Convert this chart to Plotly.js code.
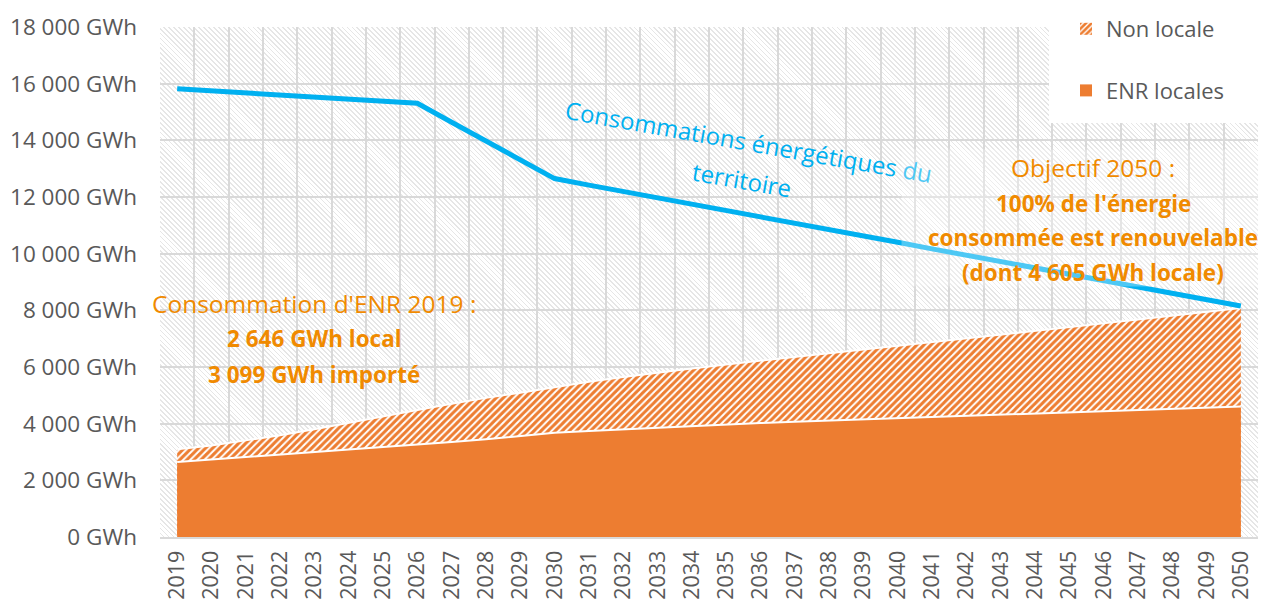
<!DOCTYPE html>
<html><head><meta charset="utf-8">
<script src="https://cdn.plot.ly/plotly-3.0.1.min.js"></script>
<style>
html,body{margin:0;padding:0;background:#fff;}
#wrap{position:relative;width:1261px;height:605px;overflow:hidden;}
#hatch{position:absolute;left:160px;top:27px;width:1098px;height:510px;
background:repeating-linear-gradient(45deg,#ffffff 0px,#ffffff 2.2px,#e6e6e6 2.2px,#e6e6e6 3.5px);}
#chart{position:absolute;left:0;top:0;width:1261px;height:605px;}
</style></head><body>
<div id="wrap"><div id="hatch"></div><div id="chart"></div></div>
<script>
// ---- data ----
const years = ['2019','2020','2021','2022','2023','2024','2025','2026','2027','2028','2029','2030',
  '2031','2032','2033','2034','2035','2036','2037','2038','2039','2040',
  '2041','2042','2043','2044','2045','2046','2047','2048','2049','2050'];

const consommation = [15820,15750,15680,15600,15530,15460,15380,15310,14640,13980,13310,12650,
  12420,12200,11970,11750,11520,11300,11070,10850,10620,10400,
  10170,9950,9720,9500,9270,9050,8820,8600,8370,8150];

const enrLocales = [2646,2730,2820,2910,3000,3090,3180,3260,3350,3450,3560,3680,
  3740,3800,3860,3920,3970,4020,4070,4110,4150,4190,
  4230,4270,4310,4350,4390,4430,4470,4510,4560,4605];

const nonLocale = [3099,3230,3410,3590,3800,4030,4270,4480,4700,4910,5090,5290,
  5480,5650,5810,5950,6090,6220,6350,6490,6620,6750,
  6880,7010,7150,7280,7410,7540,7680,7810,7940,8080];

const yTickVals = [0,2000,4000,6000,8000,10000,12000,14000,16000,18000];
const yTickText = ['0 GWh','2 000 GWh','4 000 GWh','6 000 GWh','8 000 GWh','10 000 GWh',
  '12 000 GWh','14 000 GWh','16 000 GWh','18 000 GWh'];

const seriesNames = ['Non locale','ENR locales'];
const lineLabel = ['Consommations énergétiques du','territoire'];
const enr2019Text = ["Consommation d'ENR 2019 :","2 646 GWh local","3 099 GWh importé"];
const objectifText = ["Objectif 2050 :","100% de l'énergie","consommée est renouvelable","(dont 4 605 GWh locale)"];

// ---- styles ----
const ORANGE = '#ED7D31';
const TXT_ORANGE = '#F08A00';
const BLUE = '#00B0F0';
const GREY = '#595959';
const GRID = '#d9d9d9';
const FONT = 'Open Sans, Noto Sans, sans-serif';

// plot area geometry (pixels) for placing text
const L = 160, T = 27, W = 1098, H = 510;
const px = v => (v - L) / W;
const py = v => (T + H - v) / H;

const traces = [
  {x: years, y: nonLocale, type:'scatter', mode:'lines', fill:'tozeroy',
   line:{color:'#ffffff', width:2}, fillcolor:ORANGE,
   fillpattern:{shape:'/', fgcolor:ORANGE, bgcolor:'#ffffff', size:5, solidity:0.6},
   showlegend:false, hoverinfo:'skip'},
  {x: years, y: enrLocales, type:'scatter', mode:'lines', fill:'tozeroy',
   line:{color:'#ffffff', width:2}, fillcolor:ORANGE, showlegend:false, hoverinfo:'skip'},
  {x: years, y: consommation, type:'scatter', mode:'lines',
   line:{color:BLUE, width:5}, showlegend:false, hoverinfo:'skip'},
  // legend entries (no visible bars)
  {x: [years[0]], y: [null], type:'bar', name: seriesNames[0], legendgroup:'a',
   marker:{color:'#ffffff', line:{width:0}, pattern:{shape:'/', fgcolor:ORANGE, bgcolor:'#ffffff', size:5, solidity:0.65}}},
  {x: [years[0]], y: [null], type:'bar', name: seriesNames[1], legendgroup:'b',
   marker:{color:ORANGE, line:{width:0}}}
];

const annotations = [
  {text: lineLabel[0], x: px(749), y: py(141), textangle: 10},
  {text: lineLabel[1], x: px(742), y: py(179), textangle: 10}
].map(a => Object.assign({xref:'paper', yref:'paper', showarrow:false, xanchor:'center', yanchor:'middle',
  font:{family:FONT, size:24, color:BLUE}}, a));

// semi-transparent text box of the 2050 objective
annotations.push({xref:'paper', yref:'paper', x: px(1080), y: py(218), showarrow:false,
  text:' ', width:356, height:136, bgcolor:'rgba(255,255,255,0.3)', borderpad:0,
  xanchor:'center', yanchor:'middle', font:{size:10}});

const objY = [167, 203, 237, 272];
objectifText.forEach((t, i) => annotations.push({xref:'paper', yref:'paper', x: px(1093), y: py(objY[i]),
  showarrow:false, xanchor:'center', yanchor:'middle',
  text: i === 0 ? t : '<b>' + t + '</b>',
  font:{family:FONT, size: i === 0 ? 24.5 : 22.5, color:TXT_ORANGE}}));

const enrY = [303, 338, 374];
enr2019Text.forEach((t, i) => annotations.push({xref:'paper', yref:'paper', x: px(314), y: py(enrY[i]),
  showarrow:false, xanchor:'center', yanchor:'middle',
  text: i === 0 ? t : '<b>' + t + '</b>',
  font:{family:FONT, size: i === 0 ? 24.5 : 22.5, color:TXT_ORANGE}}));

const layout = {
  width:1261, height:605,
  margin:{l:L, r:1261 - L - W, t:T, b:605 - T - H, pad:0},
  paper_bgcolor:'rgba(0,0,0,0)', plot_bgcolor:'rgba(0,0,0,0)',
  font:{family:FONT, color:GREY},
  showlegend:true,
  legend:{xref:'paper', yref:'paper', x: px(1066), xanchor:'left', y: py(8), yanchor:'top',
    bgcolor:'rgba(0,0,0,0)', font:{family:FONT, size:22, color:GREY},
    traceorder:'grouped', tracegroupgap:30, itemclick:false},
  xaxis:{type:'category', categoryorder:'array', categoryarray: years, range:[-0.5, 31.5],
    showgrid:true, gridcolor:GRID, gridwidth:2, tickson:'boundaries', ticks:'',
    tickangle:-90, tickfont:{family:FONT, size:21.5, color:GREY},
    showline:true, linecolor:GRID, linewidth:2, zeroline:false, fixedrange:true,
    ticklabelstandoff:3},
  yaxis:{range:[0,18000], tickvals:yTickVals, ticktext:yTickText,
    showgrid:true, gridcolor:GRID, gridwidth:2, zeroline:false, showline:false, ticks:'',
    tickfont:{family:FONT, size:22.5, color:GREY}, ticklabelstandoff:22, fixedrange:true},
  barmode:'overlay',
  shapes:[
    {type:'rect', xref:'paper', yref:'paper', x0: px(1049), x1: 1.05, y0: py(123), y1: 1.0,
     fillcolor:'#ffffff', line:{width:0}, layer:'above'}
  ],
  annotations: annotations
};

Plotly.newPlot('chart', traces, layout, {displayModeBar:false, staticPlot:true});
</script>
</body></html>
